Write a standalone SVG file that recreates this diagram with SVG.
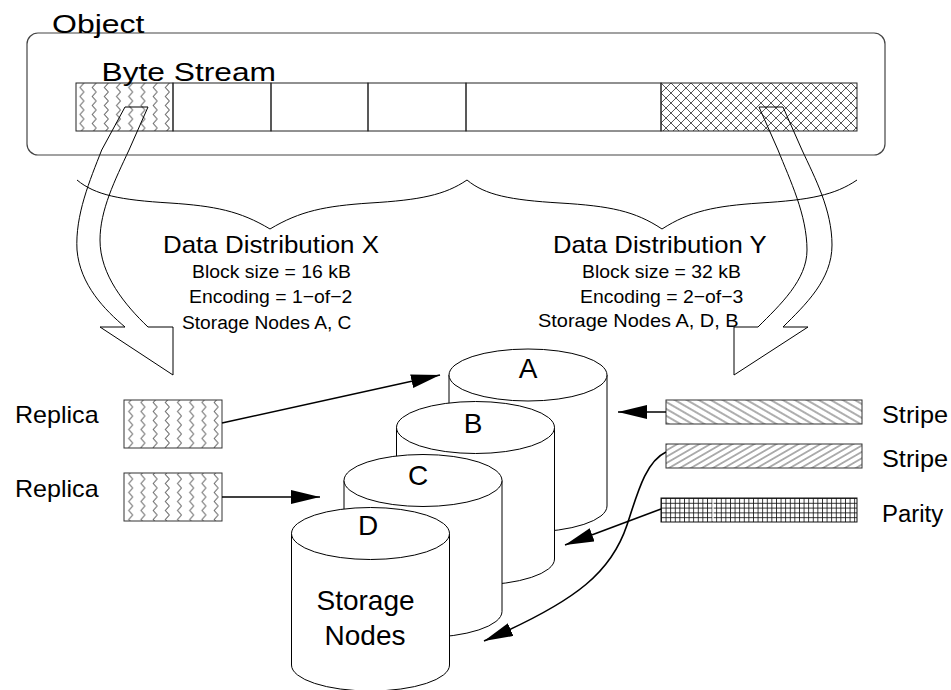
<svg xmlns="http://www.w3.org/2000/svg" width="951" height="690" viewBox="0 0 951 690">
<style>
text{font-family:"Liberation Sans",Arial,sans-serif;fill:#000}
.cell{fill:none;stroke:#222;stroke-width:1}
.cyl{fill:#fff;stroke:#000;stroke-width:1}
.outline{fill:none;stroke:#000;stroke-width:1}
.conn{fill:none;stroke:#000;stroke-width:1.6}
</style>
<defs>
<pattern id="zig" patternUnits="userSpaceOnUse" x="76" y="83" width="12.2" height="9">
<rect width="12.2" height="9" fill="#fff"/>
<path d="M8,0 L4,4.5 L8,9" fill="none" stroke="#666" stroke-width="1"/>
</pattern>
<pattern id="cross" patternUnits="userSpaceOnUse" x="661" y="83" width="10" height="10">
<rect width="10" height="10" fill="#fff"/>
<path d="M0,0 L10,10 M10,0 L0,10" fill="none" stroke="#444" stroke-width="0.9"/>
</pattern>
<pattern id="hatchB" patternUnits="userSpaceOnUse" width="20" height="6" patternTransform="rotate(30)">
<rect width="20" height="6" fill="#fff"/>
<path d="M0,3 L20,3" stroke="#333" stroke-width="0.8"/>
</pattern>
<pattern id="hatchF" patternUnits="userSpaceOnUse" width="20" height="5.5" patternTransform="rotate(-30)">
<rect width="20" height="5.5" fill="#fff"/>
<path d="M0,2.75 L20,2.75" stroke="#333" stroke-width="0.8"/>
</pattern>
<pattern id="grid" patternUnits="userSpaceOnUse" x="661" y="498" width="4.6" height="4.8">
<rect width="4.6" height="4.8" fill="#fff"/>
<path d="M0.4,0 L0.4,4.8 M0,0.4 L4.6,0.4" stroke="#111" stroke-width="0.9"/>
</pattern>
<marker id="ah" markerUnits="userSpaceOnUse" markerWidth="30" markerHeight="16" refX="29" refY="7" orient="auto">
<path d="M0,0 L29,7 L0,14 Z" fill="#000"/>
</marker>
</defs>
<rect width="951" height="690" fill="#fff"/>

<g id="object">
<rect x="27" y="33" width="858" height="122" rx="11" fill="none" stroke="#444" stroke-width="1.2"/>
<text transform="translate(52,33) scale(1.28,1)" font-size="25">Object</text>
</g>

<g id="byte-stream">
<rect x="76" y="83" width="97" height="48" fill="url(#zig)"/>
<rect x="661" y="83" width="196" height="48" fill="url(#cross)"/>
<rect class="cell" x="76" y="83" width="97" height="48"/>
<rect class="cell" x="173" y="83" width="98" height="48"/>
<rect class="cell" x="271" y="83" width="97" height="48"/>
<rect class="cell" x="368" y="83" width="98" height="48"/>
<rect class="cell" x="466" y="83" width="195" height="48"/>
<rect class="cell" x="661" y="83" width="196" height="48"/>
<text transform="translate(101.5,81) scale(1.22,1)" font-size="26">Byte Stream</text>
</g>

<g id="braces">
<path class="outline" d="M77,180 C95,195 120,200 170,203 C215,206 240,211 270,229 C300,211 325,206 370,203 C420,200 445,195 467,180"/>
<path class="outline" d="M467,180 C485,195 510,200 560,203 C610,206 635,211 662,229 C690,211 715,206 760,203 C810,200 835,195 857,180"/>
</g>

<g id="flow-arrow-x">
<path class="outline" d="M125,107 L148,107 L129,150 C115,180 100,210 100,240 C100,275 125,305 148,327 L173,327 L173,375 L100,327 L125,327 C105,310 80,285 77,250 C75,215 90,180 101.7,150 Z"/>
</g>
<g id="flow-arrow-y">
<path class="outline" d="M759,107 L783,107 L802,150 C815,178 832,210 832,245 C832,280 805,305 783,327 L808,327 L734,375 L734,327 L758,327 C780,305 807,280 807,250 C807,215 790,180 778,150 Z"/>
</g>

<g id="dist-x">
<text transform="translate(163,253) scale(1.08,1)" font-size="24">Data Distribution X</text>
<text transform="translate(192,278) scale(1.02,1)" font-size="19">Block size = 16 kB</text>
<text transform="translate(189,303) scale(1.02,1)" font-size="19">Encoding = 1−of−2</text>
<text transform="translate(182,329) scale(1.01,1)" font-size="19">Storage Nodes A, C</text>
</g>
<g id="dist-y">
<text transform="translate(553,253) scale(1.07,1)" font-size="24">Data Distribution Y</text>
<text transform="translate(582,278) scale(1.02,1)" font-size="19">Block size = 32 kB</text>
<text transform="translate(580,303) scale(1.02,1)" font-size="19">Encoding = 2−of−3</text>
<text transform="translate(538,327) scale(1.05,1)" font-size="19">Storage Nodes A, D, B</text>
</g>

<g id="node-A">
<path class="cyl" d="M449,375 L449,506 A79,26 0 0 0 607,506 L607,375 Z"/>
<ellipse class="cyl" cx="528" cy="375" rx="79" ry="26"/>
<text x="528" y="378" font-size="28" text-anchor="middle">A</text>
</g>
<g id="node-B">
<path class="cyl" d="M396.5,427.5 L396.5,559 A79,26 0 0 0 554.5,559 L554.5,427.5 Z"/>
<ellipse class="cyl" cx="475.5" cy="427.5" rx="79" ry="26"/>
<text x="473" y="433" font-size="28" text-anchor="middle">B</text>
</g>
<g id="node-C">
<path class="cyl" d="M344,480.5 L344,611.5 A79,26 0 0 0 502,611.5 L502,480.5 Z"/>
<ellipse class="cyl" cx="423" cy="480.5" rx="79" ry="26"/>
<text x="418" y="485" font-size="28" text-anchor="middle">C</text>
</g>
<g id="node-D">
<path class="cyl" d="M291.5,533.5 L291.5,665 A79,26 0 0 0 449.5,665 L449.5,533.5 Z"/>
<ellipse class="cyl" cx="370.5" cy="533.5" rx="79" ry="26"/>
<text x="368" y="535" font-size="28" text-anchor="middle">D</text>
<text x="365.5" y="610" font-size="28" text-anchor="middle">Storage</text>
<text x="365" y="645" font-size="28" text-anchor="middle">Nodes</text>
</g>

<g id="replica-1">
<rect x="124" y="400" width="98" height="48" fill="url(#zig)" stroke="#333" stroke-width="1"/>
<text transform="translate(15,423) scale(1.09,1)" font-size="23">Replica</text>
</g>
<g id="replica-2">
<rect x="124" y="473" width="98" height="48" fill="url(#zig)" stroke="#333" stroke-width="1"/>
<text transform="translate(15,497) scale(1.09,1)" font-size="23">Replica</text>
</g>
<g id="stripe-1">
<rect x="666" y="400" width="196" height="24" fill="url(#hatchB)" stroke="#333" stroke-width="1"/>
<text transform="translate(882,423) scale(1.1,1)" font-size="23">Stripe</text>
</g>
<g id="stripe-2">
<rect x="666" y="444" width="196" height="24" fill="url(#hatchF)" stroke="#333" stroke-width="1"/>
<text transform="translate(882,467) scale(1.1,1)" font-size="23">Stripe</text>
</g>
<g id="parity">
<rect x="661" y="498" width="196" height="24" fill="url(#grid)" stroke="#111" stroke-width="1"/>
<line x1="713" y1="499" x2="713" y2="521" stroke="#fff" stroke-width="1.2"/>
<text transform="translate(882,522) scale(1.04,1)" font-size="23">Parity</text>
</g>

<g id="connectors">
<path class="conn" d="M222,423 L440,375" marker-end="url(#ah)"/>
<path class="conn" d="M222,497 L320,497" marker-end="url(#ah)"/>
<path class="conn" d="M666,412 L618,412" marker-end="url(#ah)"/>
<path class="conn" d="M666,452 C645,462 637,495 627,525 C612,570 580,600 484,641" marker-end="url(#ah)"/>
<path class="conn" d="M661,509 L565,545" marker-end="url(#ah)"/>
</g>
</svg>
